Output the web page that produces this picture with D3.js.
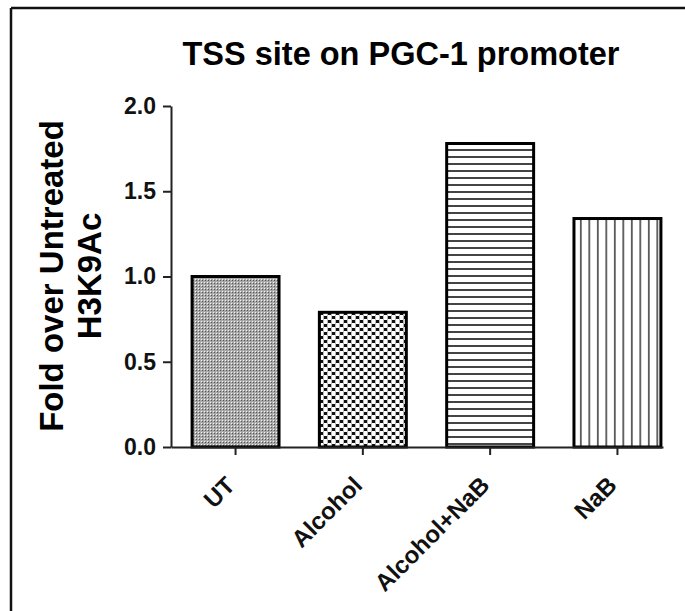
<!DOCTYPE html>
<html>
<head>
<meta charset="utf-8">
<script src="https://cdn.jsdelivr.net/npm/d3@7"></script>
<style>
  body { margin: 0; background: #fff; }
  svg { display: block; font-family: "Liberation Sans", Arial, sans-serif; }
  .axis path, .axis line { stroke: #222; stroke-width: 2; }
  .axis text { font-weight: bold; fill: #111; }
</style>
</head>
<body>
<svg id="myGraph" width="685" height="611"></svg>
<script>
var categories = ["UT", "Alcohol", "Alcohol+NaB", "NaB"];
var values = [1.0, 0.79, 1.78, 1.34];
var patterns = ["dots", "checker", "hlines", "vlines"];
var yTicks = [0, 0.5, 1.0, 1.5, 2.0];

var svg = d3.select("#myGraph");

// frame (top and left edges only are visible)
svg.append("line").attr("x1", 11).attr("y1", 8).attr("x2", 685).attr("y2", 8)
  .attr("stroke", "#111").attr("stroke-width", 2.5);
svg.append("line").attr("x1", 11).attr("y1", 8).attr("x2", 11).attr("y2", 611)
  .attr("stroke", "#111").attr("stroke-width", 2.5);

// fill patterns
var defs = svg.append("defs");
var p1 = defs.append("pattern").attr("id", "dots").attr("patternUnits", "userSpaceOnUse")
  .attr("width", 3).attr("height", 3);
p1.append("rect").attr("width", 3).attr("height", 3).attr("fill", "#a8a8a8");
p1.append("rect").attr("width", 1).attr("height", 1).attr("fill", "#f4f4f4");
p1.append("rect").attr("x", 1).attr("y", 1).attr("width", 1).attr("height", 1).attr("fill", "#555");

var p2 = defs.append("pattern").attr("id", "checker").attr("patternUnits", "userSpaceOnUse")
  .attr("width", 8).attr("height", 8);
p2.append("rect").attr("width", 8).attr("height", 8).attr("fill", "#fff");
p2.append("rect").attr("width", 3).attr("height", 3).attr("fill", "#111");
p2.append("rect").attr("x", 4).attr("y", 4).attr("width", 3).attr("height", 3).attr("fill", "#111");
p2.append("rect").attr("x", 3).attr("y", 0).attr("width", 1).attr("height", 8).attr("fill", "#bbb");
p2.append("rect").attr("x", 7).attr("y", 0).attr("width", 1).attr("height", 8).attr("fill", "#bbb");

var p3 = defs.append("pattern").attr("id", "hlines").attr("patternUnits", "userSpaceOnUse")
  .attr("width", 8).attr("height", 7);
p3.append("rect").attr("width", 8).attr("height", 7).attr("fill", "#fff");
p3.append("rect").attr("y", 2).attr("width", 8).attr("height", 2).attr("fill", "#444");

var p4 = defs.append("pattern").attr("id", "vlines").attr("patternUnits", "userSpaceOnUse")
  .attr("width", 8.5).attr("height", 8);
p4.append("rect").attr("width", 8.5).attr("height", 8).attr("fill", "#fff");
p4.append("rect").attr("x", 2).attr("width", 1.6).attr("height", 8).attr("fill", "#444");

// scales
var xScale = d3.scaleBand()
  .domain(categories)
  .range([171, 663])
  .paddingInner(0.317)
  .paddingOuter(0.091)
  .align(0.91);

var yScale = d3.scaleLinear()
  .domain([0, 2])
  .range([447, 106]);

// bars
svg.append("g").selectAll("rect")
  .data(values)
  .enter()
  .append("rect")
  .attr("x", function(d, i) { return xScale(categories[i]); })
  .attr("y", function(d) { return yScale(d); })
  .attr("width", xScale.bandwidth())
  .attr("height", function(d) { return yScale(0) - yScale(d); })
  .attr("fill", function(d, i) { return "url(#" + patterns[i] + ")"; })
  .attr("stroke", "#000")
  .attr("stroke-width", 3);

// y axis
var yAxis = d3.axisLeft(yScale)
  .tickValues(yTicks)
  .tickFormat(d3.format(".1f"))
  .tickSize(8)
  .tickSizeOuter(0)
  .tickPadding(7);
svg.append("g").attr("class", "axis")
  .attr("transform", "translate(171,0)")
  .call(yAxis)
  .selectAll("text").style("font-size", "23px");

// x axis
var xAxis = d3.axisBottom(xScale)
  .tickSize(8)
  .tickSizeOuter(0);
var gx = svg.append("g").attr("class", "axis")
  .attr("transform", "translate(0,447)")
  .call(xAxis);
gx.selectAll("text")
  .style("font-size", "24px")
  .attr("text-anchor", "end")
  .attr("dy", "0")
  .attr("transform", "translate(-7,32) rotate(-45)");

// title
svg.append("text")
  .attr("x", 401).attr("y", 65)
  .attr("text-anchor", "middle")
  .style("font-size", "32.5px").style("font-weight", "bold")
  .text("TSS site on PGC-1 promoter");

// y label
var yl = svg.append("text")
  .attr("transform", "translate(0,276) rotate(-90)")
  .attr("text-anchor", "middle")
  .style("font-size", "33px").style("font-weight", "bold");
yl.append("tspan").attr("x", 0).attr("y", 63).text("Fold over Untreated");
yl.append("tspan").attr("x", 0).attr("y", 101).text("H3K9Ac");
</script>
</body>
</html>
